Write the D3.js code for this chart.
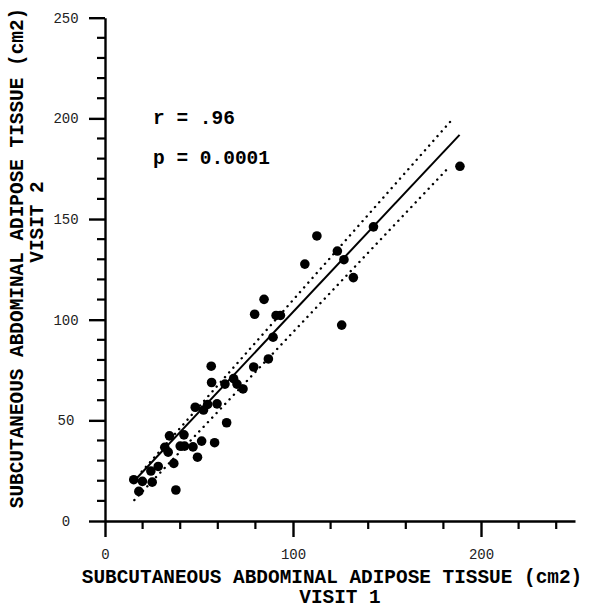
<!DOCTYPE html>
<html>
<head>
<meta charset="utf-8">
<script src="https://cdn.jsdelivr.net/npm/d3@7"></script>
<style>
  html, body { margin: 0; padding: 0; background: #fff; }
  svg { display: block; }
</style>
</head>
<body>
<script>
// ---- data ----
const visit1 = [188.8, 142.8, 112.7, 123.6, 127.1, 106.3, 132.1, 125.9, 84.6, 79.6,
                91.0, 93.3, 89.4, 86.9, 79.1, 56.5, 56.7, 63.8, 68.4, 70.2,
                73.4, 59.6, 54.6, 48.0, 52.4, 64.7, 42.0, 34.3, 31.8, 33.6,
                40.0, 42.3, 46.8, 51.4, 58.3, 49.2, 36.6, 28.3, 24.4, 25.1,
                15.3, 19.9, 18.0, 37.7];
const visit2 = [176.2, 146.1, 141.6, 134.1, 129.8, 127.6, 120.9, 97.3, 110.1, 102.7,
                102.1, 102.1, 91.3, 80.5, 76.5, 76.9, 68.8, 68.0, 70.7, 68.0,
                65.6, 58.2, 57.9, 56.5, 55.1, 48.8, 42.8, 42.3, 36.6, 34.2,
                37.2, 37.2, 36.8, 39.7, 38.9, 31.7, 28.6, 27.1, 24.8, 19.3,
                20.5, 19.7, 14.7, 15.4];
const fitX = [15.1, 188.6];
const fitY = [19.5, 191.8];
const upperX = [19.5, 183.5];
const upperY = [24.5, 198.2];
const lowerX = [15.6, 181.7];
const lowerY = [10.4, 174.5];
const xMajorTicks = [0, 100, 200];
const yMajorTicks = [0, 50, 100, 150, 200, 250];
const statLabels = ["r = .96", "p = 0.0001"];
const xTitle = ["SUBCUTANEOUS ABDOMINAL ADIPOSE TISSUE (cm2)", "VISIT 1"];
const yTitle = ["SUBCUTANEOUS ABDOMINAL ADIPOSE TISSUE (cm2)", "VISIT 2"];

// ---- layout ----
const W = 597, H = 608;
const x = d3.scaleLinear().domain([0, 250]).range([105, 575]);
const y = d3.scaleLinear().domain([0, 250]).range([521, 17.7]);

const svg = d3.select("body").append("svg").attr("width", W).attr("height", H);

const mono = "'Liberation Mono', 'DejaVu Sans Mono', monospace";

// minor ticks
const xMinor = d3.range(20, 251, 20).filter(v => !xMajorTicks.includes(v));
const yMinor = d3.range(10, 251, 10).filter(v => !yMajorTicks.includes(v));

// axes
const xAxis = d3.axisBottom(x).tickValues(xMajorTicks).tickSize(16).tickPadding(12).tickSizeOuter(0);
const yAxis = d3.axisLeft(y).tickValues(yMajorTicks).tickSize(16).tickPadding(8).tickSizeOuter(0);

const gx = svg.append("g").attr("transform", `translate(0,${y(0)})`).call(xAxis);
const gy = svg.append("g").attr("transform", `translate(${x(0)},0)`).call(yAxis);

[gx, gy].forEach(g => {
  g.select(".domain").attr("stroke", "#000").attr("stroke-width", 2.4);
  g.selectAll(".tick line").attr("stroke", "#000").attr("stroke-width", 2.4);
  g.selectAll(".tick text").attr("font-family", mono).attr("font-size", 14).attr("fill", "#222");
});
gy.selectAll(".tick text").attr("text-anchor", "middle").attr("x", -39);

// minor ticks
svg.append("g").selectAll("line").data(xMinor).join("line")
  .attr("x1", d => x(d)).attr("x2", d => x(d))
  .attr("y1", y(0)).attr("y2", y(0) + 8)
  .attr("stroke", "#000").attr("stroke-width", 2.2);
svg.append("g").selectAll("line").data(yMinor).join("line")
  .attr("y1", d => y(d)).attr("y2", d => y(d))
  .attr("x1", x(0)).attr("x2", x(0) - 8)
  .attr("stroke", "#000").attr("stroke-width", 2.2);

// regression and dotted lines
const line = d3.line().x(d => x(d[0])).y(d => y(d[1]));
svg.append("path").datum(d3.zip(fitX, fitY)).attr("d", line)
  .attr("stroke", "#000").attr("stroke-width", 2).attr("fill", "none");
[[upperX, upperY], [lowerX, lowerY]].forEach(([xs, ys]) => {
  svg.append("path").datum(d3.zip(xs, ys)).attr("d", line)
    .attr("stroke", "#000").attr("stroke-width", 2.4).attr("fill", "none")
    .attr("stroke-linecap", "round").attr("stroke-dasharray", "0.1,6.2");
});

// points
svg.append("g").selectAll("circle").data(d3.zip(visit1, visit2)).join("circle")
  .attr("cx", d => x(d[0])).attr("cy", d => y(d[1])).attr("r", 4.8).attr("fill", "#000");

// stat labels
svg.append("g").selectAll("text").data(statLabels).join("text")
  .attr("x", 153).attr("y", (d, i) => 124 + i * 40)
  .attr("font-family", mono).attr("font-weight", "bold").attr("font-size", 19.5)
  .text(d => d);

// titles
svg.append("g").selectAll("text").data(xTitle).join("text")
  .attr("x", (d, i) => i === 0 ? 332 : 340).attr("y", (d, i) => 583 + i * 20)
  .attr("text-anchor", "middle")
  .attr("font-family", mono).attr("font-weight", "bold").attr("font-size", 19.4)
  .text(d => d);

svg.append("g").selectAll("text").data(yTitle).join("text")
  .attr("transform", (d, i) => i === 0 ? "translate(23,258) rotate(-90)" : "translate(43,222) rotate(-90)")
  .attr("text-anchor", "middle")
  .attr("font-family", mono).attr("font-weight", "bold").attr("font-size", 19.4)
  .text(d => d);
</script>
</body>
</html>
